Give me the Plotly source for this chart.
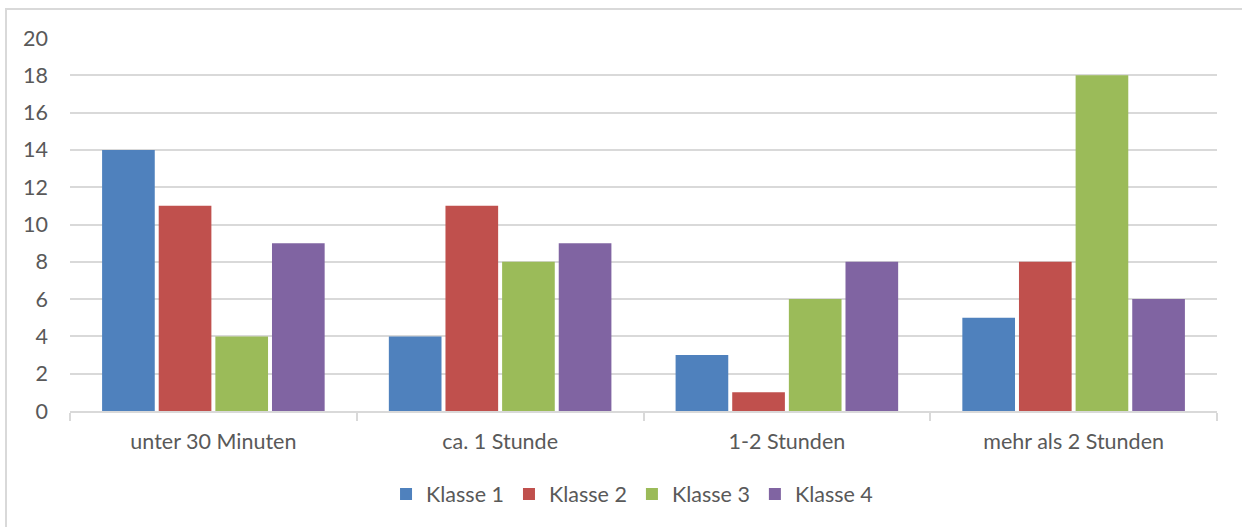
import plotly.graph_objects as go

categories = ["unter 30 Minuten", "ca. 1 Stunde", "1-2 Stunden", "mehr als 2 Stunden"]
series_names = ["Klasse 1", "Klasse 2", "Klasse 3", "Klasse 4"]
klasse_1 = [14, 4, 3, 5]
klasse_2 = [11, 11, 1, 8]
klasse_3 = [4, 8, 6, 18]
klasse_4 = [9, 9, 8, 6]
colors = ["#4F81BD", "#C0504D", "#9BBB59", "#8064A2"]

font_family = "Lato, 'Open Sans', sans-serif"
text_color = "#595959"
grid_color = "#D9D9D9"
fs = 21.5

fig = go.Figure()
for name, vals, col in zip(series_names, [klasse_1, klasse_2, klasse_3, klasse_4], colors):
    fig.add_trace(go.Bar(x=categories, y=vals, name=name, marker_color=col,
                         marker_line_width=0))

W, H = 1242, 527
L, R, T, B = 70, 25, 38, 116
pw, ph = W - L - R, H - T - B

fig.update_layout(
    width=W, height=H,
    margin=dict(l=L, r=R, t=T, b=B),
    paper_bgcolor="white", plot_bgcolor="white",
    barmode="group", bargap=0.21, bargroupgap=0.07,
    font=dict(family=font_family, size=fs, color=text_color),
    showlegend=True,
    legend=dict(orientation="h", x=0.49, xanchor="center",
                y=(411 - 494) / ph, yanchor="middle",
                font=dict(size=fs, color=text_color),
                itemwidth=30, traceorder="normal"),
    xaxis=dict(showgrid=False, showline=True, linecolor=grid_color, linewidth=2,
               ticks="outside", tickson="boundaries", ticklen=8, tickwidth=2,
               tickcolor=grid_color, ticklabelstandoff=10,
               tickfont=dict(size=fs, color=text_color)),
    yaxis=dict(range=[0, 20], dtick=2, showgrid=True, gridcolor=grid_color,
               gridwidth=2, zeroline=False, showline=False, ticks="",
               ticklabelstandoff=21, tickfont=dict(size=fs, color=text_color)),
)

# light chart border
fig.add_shape(type="rect", xref="paper", yref="paper",
              x0=(6 - L) / pw, x1=(W + 20 - L) / pw,
              y0=-(H + 20 - T - ph) / ph, y1=1 + (T - 9) / ph,
              line=dict(color=grid_color, width=2), fillcolor="rgba(0,0,0,0)",
              layer="below")

fig.write_html("out.html")
